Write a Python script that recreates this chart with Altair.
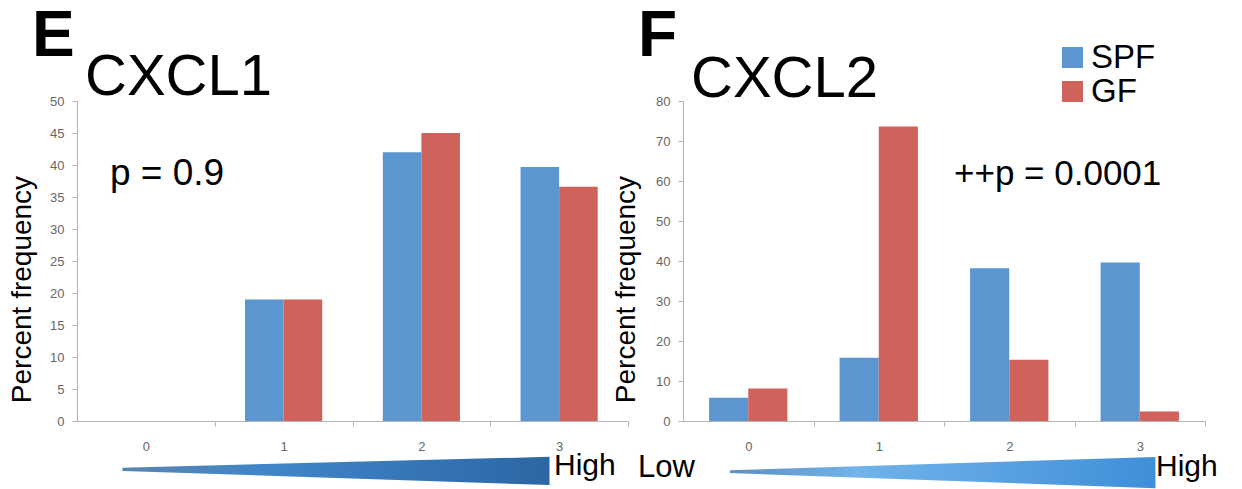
import altair as alt
import pandas as pd

# ---------------- data ----------------
categories = [0, 1, 2, 3]
series = ["SPF", "GF"]
cxcl1_spf = [0, 19, 42, 39.7]
cxcl1_gf = [0, 19, 45, 36.6]
cxcl2_spf = [5.8, 15.8, 38.2, 39.6]
cxcl2_gf = [8.1, 73.6, 15.3, 2.4]
cxcl1_yticks = list(range(0, 51, 5))
cxcl2_yticks = list(range(0, 81, 10))
panel_letters = ["E", "F"]
panel_titles = ["CXCL1", "CXCL2"]
p_labels = ["p = 0.9", "++p = 0.0001"]
scale_words = ["Low", "High"]

# wedge ("Low -> High") shapes, in data units of each panel
wedge1_x = [-0.17, 2.93]
wedge1_top = [-7.3, -5.6]
wedge1_bot = [-7.8, -10.0]
wedge2_x = [-0.14, 3.12]
wedge2_top = [-12.3, -9.0]
wedge2_bot = [-13.0, -16.8]

BLUE = "#5b96d0"
RED = "#cf625a"
AXIS_GREY = "#b4b4b4"
LABEL_GREY = "#666666"
FONT = "Liberation Sans"


def bars_df(spf, gf, half):
    rows = []
    for c, s, g in zip(categories, spf, gf):
        rows.append(dict(cat=c, series="SPF", value=s, base=0, x0=c - half, x1=c))
        rows.append(dict(cat=c, series="GF", value=g, base=0, x0=c, x1=c + half))
    return pd.DataFrame(rows)


def text_layer(txt, px, py, size, weight="normal"):
    return alt.Chart(pd.DataFrame({"t": [txt]})).mark_text(
        align="left", baseline="alphabetic", fontSize=size, font=FONT,
        fontWeight=weight, color="black", clip=False
    ).encode(x=alt.value(px), y=alt.value(py), text="t:N")


def panel(df, ymax, yticks, width, height, wx, wtop, wbot, stops, texts,
          legend, title_x):
    xscale = alt.Scale(domain=[-0.5, 3.5], nice=False, zero=False, padding=0)
    yscale = alt.Scale(domain=[0, ymax], nice=False, padding=0)
    yaxis = alt.Axis(values=yticks, grid=False, title="Percent frequency",
                     labelOverlap=False,
                     titleFont=FONT, titleFontSize=28,
                     titleFontWeight="normal", titleColor="black",
                     titleAngle=-90, titleAlign="center",
                     titleBaseline="alphabetic",
                     titleX=title_x, titleY=188,
                     labelFontSize=13, labelColor=LABEL_GREY,
                     labelFont=FONT, labelPadding=8,
                     tickSize=5, tickColor=AXIS_GREY,
                     domainColor=AXIS_GREY)
    bars = alt.Chart(df).mark_bar(clip=False, orient="vertical").encode(
        x=alt.X("x0:Q", scale=xscale,
                axis=alt.Axis(values=categories, ticks=False, format="d",
                              orient="bottom",
                              labelFontSize=13, labelColor=LABEL_GREY,
                              labelFont=FONT, labelPadding=19,
                              domainColor=AXIS_GREY, grid=False, title=None)),
        x2="x1:Q",
        y=alt.Y("value:Q", scale=yscale, axis=yaxis),
        y2="base:Q",
        color=alt.Color("series:N", scale=alt.Scale(domain=series, range=[BLUE, RED]),
                        legend=legend),
    )
    wdf = pd.DataFrame({"x": wx, "top": wtop, "bot": wbot})
    wedge = alt.Chart(wdf).mark_area(
        clip=False,
        color=alt.Gradient(gradient="linear",
                           stops=[alt.GradientStop(color=c, offset=o) for o, c in stops],
                           x1=0, x2=1, y1=0, y2=0),
    ).encode(
        x=alt.X("x:Q", scale=xscale,
                axis=alt.Axis(values=[0.5, 1.5, 2.5, 3.5], labels=False, ticks=True,
                              orient="bottom",
                              tickSize=5, tickColor=AXIS_GREY, domain=False,
                              grid=False, title=None)),
        y=alt.Y("top:Q", scale=yscale, axis=yaxis),
        y2="bot:Q",
    )
    layers = [bars, wedge] + [text_layer(*t) for t in texts]
    return alt.layer(*layers).resolve_axis(x="independent").properties(
        width=width, height=height)


left = panel(
    bars_df(cxcl1_spf, cxcl1_gf, 0.28), 50, cxcl1_yticks, 551, 320,
    wedge1_x, wedge1_top, wedge1_bot,
    [(0, "#5a84b0"), (0.35, "#3f86c9"), (1, "#2c66a4")],
    [(panel_letters[0], -45, -45, 64, "bold"),
     (panel_titles[0], 8, -6, 58),
     (p_labels[0], 33, 84, 37),
     (scale_words[1], 477, 374, 30)],
    None, -47,
)

right = panel(
    bars_df(cxcl2_spf, cxcl2_gf, 0.30), 80, cxcl2_yticks, 522, 320,
    wedge2_x, wedge2_top, wedge2_bot,
    [(0, "#5d8fc2"), (0.3, "#71b3ea"), (1, "#3f8fd8")],
    [(panel_letters[1], -45, -45, 64, "bold"),
     (panel_titles[1], 8, -4, 58),
     (p_labels[1], 271, 84, 35),
     (scale_words[0], -45, 376, 31),
     (scale_words[1], 473, 375, 30)],
    alt.Legend(orient="none", legendX=373, legendY=-60, title=None,
               symbolType="square", symbolSize=440, symbolStrokeWidth=0,
               labelFontSize=33, labelFont=FONT, labelColor="black",
               labelOffset=2, rowPadding=-5),
    -49,
)

chart = alt.HConcatChart(hconcat=[left, right], spacing=55, bounds="flush").resolve_legend(
    color="independent"
).configure_view(stroke=None).properties(
    padding={"left": 0, "top": -3, "right": 5, "bottom": 0}
)

chart.save("out.html", embed_options={"renderer": "svg", "actions": False})
